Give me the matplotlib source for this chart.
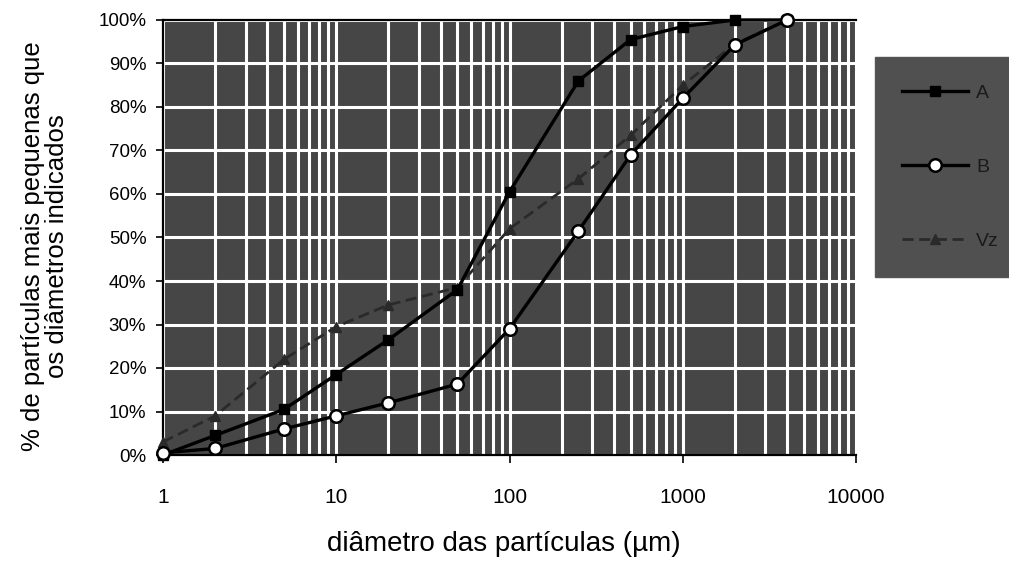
import matplotlib
matplotlib.use("Agg")
import matplotlib.pyplot as plt
from matplotlib.ticker import FixedLocator, NullFormatter, FuncFormatter

plt.rcParams['font.family'] = ['Liberation Sans', 'DejaVu Sans']

# ---- data ----
diam = [1, 2, 5, 10, 20, 50, 100, 250, 500, 1000, 2000, 4000]
series_A = [0, 4.5, 10.5, 18.5, 26.5, 38, 60.5, 86, 95.5, 98.5, 100, 100]
series_B = [0.5, 1.5, 6, 9, 12, 16.3, 29, 51.5, 69, 82, 94.3, 100]
series_V = [3, 9, 22, 29.5, 34.5, 38.5, 52, 63.5, 73.5, 85, 94.5, 100]
labels = ['A', 'B', 'Vz']
x_ticks = [1, 10, 100, 1000, 10000]
y_ticks = [0, 10, 20, 30, 40, 50, 60, 70, 80, 90, 100]

W, H = 1009, 565
fig = plt.figure(figsize=(W / 100, H / 100), dpi=100)
ax = fig.add_axes([163 / W, 1 - 455 / H, (856 - 163) / W, 435 / H])
ax.set_facecolor('#464646')

ax.set_xscale('log')
ax.set_xlim(1, 10000)
ax.set_ylim(0, 100)

minor = [m * 10 ** e for e in range(0, 4) for m in range(2, 10)]
ax.xaxis.set_major_locator(FixedLocator(x_ticks))
ax.xaxis.set_minor_locator(FixedLocator(minor))
ax.xaxis.set_minor_formatter(NullFormatter())
ax.xaxis.set_major_formatter(FuncFormatter(lambda v, p: f"{int(v)}"))
ax.yaxis.set_major_locator(FixedLocator(y_ticks))
ax.yaxis.set_major_formatter(FuncFormatter(lambda v, p: f"{int(v)}%"))

ax.grid(True, which='major', axis='both', color='white', lw=2.2)
ax.grid(True, which='minor', axis='x', color='white', lw=2.2)
ax.set_axisbelow(True)

ax.tick_params(axis='x', which='major', length=6, width=1.2, direction='out',
               pad=18, labelsize=15)
ax.tick_params(axis='x', which='minor', length=0)
ax.tick_params(axis='y', which='major', length=5, width=1.2, direction='out',
               labelsize=13.5, pad=7)

ax.spines['right'].set_visible(False)
for s in ['left', 'bottom', 'top']:
    ax.spines[s].set_linewidth(1.6)

lA, = ax.plot(diam, series_A, '-', color='black', lw=2.4, marker='s',
              ms=6.5, mfc='black', mec='black', label=labels[0], clip_on=False, zorder=4)
lB, = ax.plot(diam, series_B, '-', color='black', lw=2.4, marker='o',
              ms=9, mfc='white', mec='black', mew=1.8, label=labels[1], clip_on=False, zorder=5)
lV, = ax.plot(diam, series_V, '--', color='#2a2a2a', lw=2.0, marker='^',
              ms=7, mfc='#2a2a2a', mec='#2a2a2a', dashes=(4, 2), label=labels[2],
              clip_on=False, zorder=3)

fig.text(504 / W, 1 - 544 / H, 'diâmetro das partículas (µm)', fontsize=20,
         ha='center', va='center')
fig.text(45 / W, 1 - 246 / H, '% de partículas mais pequenas que\nos diâmetros indicados',
         fontsize=18.5, rotation=90, ha='center', va='center', multialignment='center',
         linespacing=1.0)

leg = fig.legend(handles=[lA, lB, lV], loc='lower left',
                 bbox_to_anchor=(875 / W, 1 - 277 / H), frameon=True,
                 fontsize=14, labelspacing=2.9, handlelength=3.4, borderpad=1.4,
                 handletextpad=0.4, borderaxespad=0)
leg.get_frame().set_facecolor('#505050')
leg.get_frame().set_edgecolor('#555555')
leg.get_frame().set_alpha(1)
leg.get_frame().set_boxstyle('square', pad=0)
for t in leg.get_texts():
    t.set_color('#1a1a1a')

fig.savefig('out.png', dpi=100, facecolor='white')
